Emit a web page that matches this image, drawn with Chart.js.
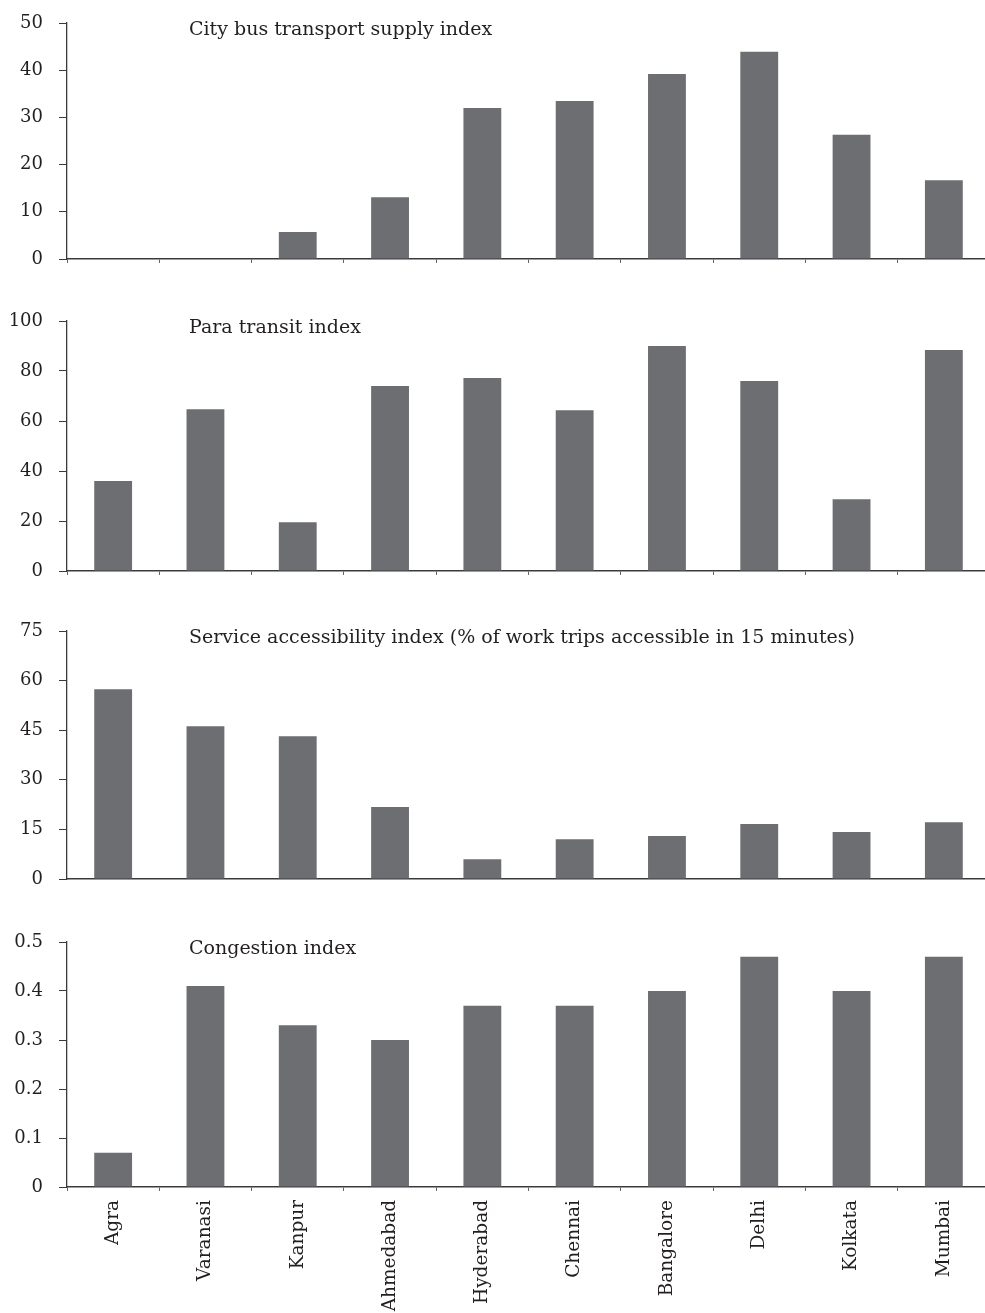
<!DOCTYPE html>
<html>
<head>
<meta charset="utf-8">
<script src="https://cdn.jsdelivr.net/npm/chart.js@4.4.0/dist/chart.umd.min.js"></script>
<style>
  html, body { margin: 0; padding: 0; background: #fff; overflow: hidden; width: 985px; height: 1313px; }
  .panel { position: absolute; left: 0; width: 990px; }
</style>
</head>
<body>
<div class="panel" style="top:2px;height:278px"><canvas id="bus"></canvas></div>
<div class="panel" style="top:300px;height:292px"><canvas id="para"></canvas></div>
<div class="panel" style="top:610px;height:290px"><canvas id="access"></canvas></div>
<div class="panel" style="top:921px;height:392px"><canvas id="congestion"></canvas></div>
<script>
const cities = ['Agra', 'Varanasi', 'Kanpur', 'Ahmedabad', 'Hyderabad', 'Chennai', 'Bangalore', 'Delhi', 'Kolkata', 'Mumbai'];
const busSupply = [0, 0, 5.7, 13.1, 32, 33.5, 39.2, 43.9, 26.3, 16.7];
const paraTransit = [36, 64.7, 19.5, 74, 77.2, 64.3, 90, 76, 28.7, 88.4];
const accessibility = [57.4, 46.2, 43.2, 21.8, 6, 12, 13, 16.6, 14.2, 17.2];
const congestion = [0.07, 0.41, 0.33, 0.30, 0.37, 0.37, 0.40, 0.47, 0.40, 0.47];

const titles = [
    'City bus transport supply index',
    'Para transit index',
    'Service accessibility index (% of work trips accessible in 15 minutes)',
    'Congestion index'
];

const barColor = '#6d6e72';
const axisColor = '#3a3a3c';
const textColor = '#231f20';
const serif = 'DejaVu Serif';

// draws the panel caption inside the plot area
const captionPlugin = {
    id: 'caption',
    afterDraw(chart, args, opts) {
        const ctx = chart.ctx;
        const area = chart.chartArea;
        ctx.save();
        ctx.font = '19px "' + serif + '"';
        ctx.fillStyle = textColor;
        ctx.textAlign = 'left';
        ctx.textBaseline = 'middle';
        ctx.fillText(opts.text, area.left + 122, area.top + 7);
        ctx.restore();
    }
};

function panel(id, values, title, max, step, showLabels, xTicks) {
    const ctx = document.getElementById(id).getContext('2d');
    return new Chart(ctx, {
        type: 'bar',
        data: {
            labels: cities,
            datasets: [{
                data: values,
                backgroundColor: barColor,
                borderWidth: 0,
                barPercentage: 0.41,
                categoryPercentage: 1
            }]
        },
        options: {
            responsive: true,
            maintainAspectRatio: false,
            animation: false,
            layout: { padding: { top: 21, bottom: showLabels ? 0 : 17, left: 0, right: 0 } },
            plugins: {
                legend: { display: false },
                tooltip: { enabled: false },
                caption: { text: title }
            },
            scales: {
                x: {
                    offset: true,
                    border: { display: true, color: axisColor, width: 1.6 },
                    grid: {
                        display: xTicks,
                        offset: true,
                        drawOnChartArea: false,
                        drawTicks: true,
                        tickLength: 4,
                        color: '#666'
                    },
                    ticks: {
                        display: showLabels,
                        autoSkip: false,
                        minRotation: 90,
                        maxRotation: 90,
                        padding: 9,
                        color: textColor,
                        font: { family: serif, size: 18.5 }
                    },
                    afterFit(scale) {
                        scale.height = showLabels ? 126 : 4;
                    }
                },
                y: {
                    min: 0,
                    max: max,
                    border: { display: true, color: axisColor, width: 1.3 },
                    grid: {
                        drawOnChartArea: false,
                        drawTicks: true,
                        tickLength: 8,
                        color: axisColor
                    },
                    ticks: {
                        stepSize: step,
                        padding: 16,
                        color: textColor,
                        font: { family: serif, size: 18 }
                    },
                    afterFit(scale) {
                        scale.width = 67;
                        scale.paddingTop = 0;
                        scale.paddingBottom = 0;
                    }
                }
            }
        },
        plugins: [captionPlugin]
    });
}

panel('bus', busSupply, titles[0], 50, 10, false, true);
panel('para', paraTransit, titles[1], 100, 20, false, true);
panel('access', accessibility, titles[2], 75, 15, false, false);
panel('congestion', congestion, titles[3], 0.5, 0.1, true, true);
</script>
</body>
</html>
